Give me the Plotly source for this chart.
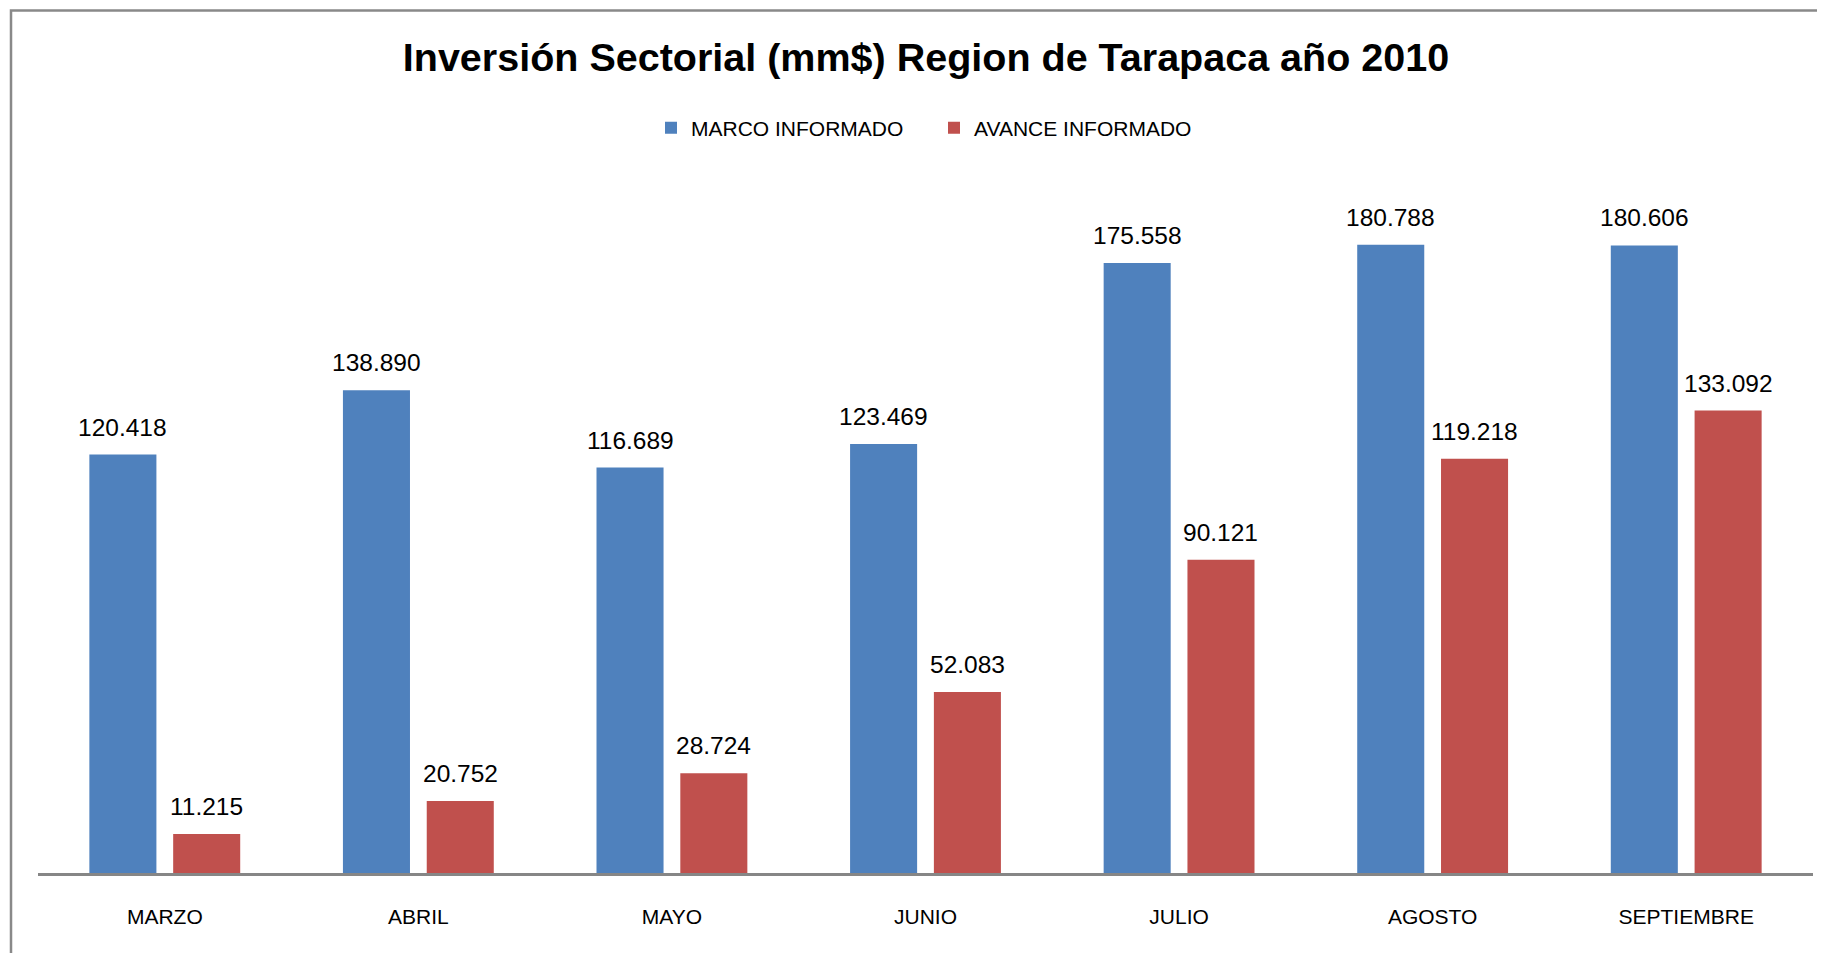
import plotly.graph_objects as go

# ---- data ----
months = ["MARZO", "ABRIL", "MAYO", "JUNIO", "JULIO", "AGOSTO", "SEPTIEMBRE"]
marco_informado = [120418, 138890, 116689, 123469, 175558, 180788, 180606]
avance_informado = [11215, 20752, 28724, 52083, 90121, 119218, 133092]
series_names = ["MARCO INFORMADO", "AVANCE INFORMADO"]
title_text = "Inversión Sectorial (mm$) Region de Tarapaca año 2010"

# ---- style ----
OFF = 8                      # browser body margin
W, H = 1825 - OFF, 953 - OFF
ML, MR, MT, MB = 38 - OFF, 12, 178 - OFF, 80
BARGAP, GROUPGAP = 0.339, 0.2
BLUE, RED = "#4F81BD", "#C0504D"
FONT = "Liberation Sans, Arial, sans-serif"


def fmt(v):
    return f"{v:,}".replace(",", ".")


fig = go.Figure()
fig.add_trace(go.Bar(x=months, y=marco_informado, name=series_names[0],
                     marker=dict(color=BLUE, line=dict(width=0))))
fig.add_trace(go.Bar(x=months, y=avance_informado, name=series_names[1],
                     marker=dict(color=RED, line=dict(width=0))))

# data labels above each bar
plot_w = W - ML - MR
plot_h = H - MT - MB
cat_px = plot_w / len(months)
slot_off = (1 - BARGAP) * cat_px / 4
annotations = []
for vals, sign in ((marco_informado, -1), (avance_informado, 1)):
    for m, v in zip(months, vals):
        annotations.append(dict(
            x=m, y=v, xref="x", yref="y", text=fmt(v), showarrow=False,
            xanchor="center", yanchor="bottom", xshift=sign * slot_off, yshift=12,
            font=dict(family=FONT, size=24.5, color="#000000")))

# outer chart-area border (left and top visible, rest runs off the page)
bx0 = (11 - OFF - ML) / plot_w
by1 = (H - MB - (10.5 - OFF)) / plot_h

fig.update_layout(
    width=W, height=H,
    margin=dict(l=ML, r=MR, t=MT, b=MB, pad=0),
    paper_bgcolor="white", plot_bgcolor="white",
    barmode="group", bargap=BARGAP, bargroupgap=GROUPGAP,
    title=dict(text=f"<b>{title_text}</b>", x=(926 - OFF) / W, xanchor="center",
               y=1 - (57 - OFF) / H, yanchor="middle", yref="container",
               font=dict(family=FONT, size=39.5, color="#000000")),
    legend=dict(orientation="h", xref="container", x=(651 - OFF) / W, xanchor="left",
                y=1 - (128 - OFF) / H, yanchor="middle", yref="container",
                entrywidth=238, entrywidthmode="pixels",
                font=dict(family=FONT, size=21, color="#000000"),
                bgcolor="rgba(0,0,0,0)", itemclick=False),
    xaxis=dict(showline=True, linecolor="#868686", linewidth=2.5,
               showgrid=False, zeroline=False, ticks="",
               ticklabelstandoff=23,
               tickfont=dict(family=FONT, size=21, color="#000000")),
    yaxis=dict(range=[0, 200000], visible=False, showgrid=False, zeroline=False),
    annotations=annotations,
    shapes=[dict(type="rect", xref="paper", yref="paper",
                 x0=bx0, x1=1.2, y0=-0.3, y1=by1,
                 line=dict(color="#898989", width=2.5), layer="below")],
    showlegend=True,
)

fig.write_html("out.html")
